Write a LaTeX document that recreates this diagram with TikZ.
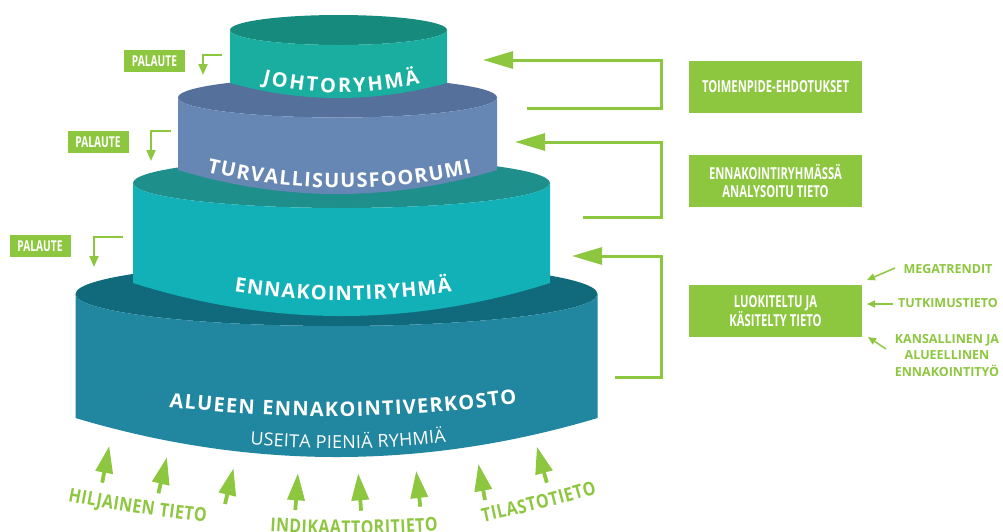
\documentclass[tikz,border=0pt]{standalone}
\usepackage{fontspec}
\setmainfont{Open Sans}
\newfontfamily\condfont[FakeStretch=0.68]{Open Sans}
\newfontfamily\groundfont[FakeStretch=0.84]{Open Sans}
\usetikzlibrary{arrows.meta,decorations.text}

\definecolor{leaf}{HTML}{8DC63F}
\definecolor{layAfront}{HTML}{19AE9F}
\definecolor{layAtop}{HTML}{168A7C}
\definecolor{layBfront}{HTML}{6686B3}
\definecolor{layBtop}{HTML}{55709A}
\definecolor{layCfront}{HTML}{11B1B7}
\definecolor{layCtop}{HTML}{1E8F8B}
\definecolor{layDfront}{HTML}{21869F}
\definecolor{layDtop}{HTML}{106A7B}

\newcommand\tierfont{\fontsize{20}{20}\selectfont\bfseries}
\newcommand\subtierfont{\fontsize{18}{18}\selectfont}
\newcommand\groundlabelfont{\groundfont\fontsize{19}{19}\selectfont\bfseries}

% one layer of the cake: centre x, half width, top y, top-face radius,
% bottom corner y, sag of the bottom edge, front colour, top colour
\newcommand\drawtier[8]{%
  \pgfmathsetmacro\tXl{#1-#2}\pgfmathsetmacro\tXr{#1+#2}%
  \pgfmathsetmacro\tKa{0.5523*#2}\pgfmathsetmacro\tKb{0.5523*#4}%
  \pgfmathsetmacro\tYl{#3+#4}\pgfmathsetmacro\tYk{#3+\tKb}%
  \pgfmathsetmacro\tYc{#5+4*#6/3}%
  \pgfmathsetmacro\tXa{#1-\tKa}\pgfmathsetmacro\tXb{#1+\tKa}%
  \pgfmathsetmacro\tXp{#1+#2/3}\pgfmathsetmacro\tXq{#1-#2/3}%
  \fill[#8] (#1,#3) ellipse [x radius=#2, y radius=#4];
  \fill[#7] (\tXl,#3) .. controls (\tXl,\tYk) and (\tXa,\tYl) .. (#1,\tYl)
    .. controls (\tXb,\tYl) and (\tXr,\tYk) .. (\tXr,#3)
    -- (\tXr,#5) .. controls (\tXp,\tYc) and (\tXq,\tYc) .. (\tXl,#5) -- cycle;
}

\tikzset{
  gbox/.style={fill=leaf, text=white, inner sep=0pt, align=center,
    font=\condfont\fontsize{16.5}{18}\selectfont\bfseries},
  pbox/.style={fill=leaf, text=white, inner sep=0pt, minimum width=61pt,
    minimum height=22pt, font=\condfont\fontsize{15}{15}\selectfont\bfseries},
  sidelabel/.style={text=leaf, inner sep=0pt, align=center,
    font=\fontsize{12.5}{16.5}\selectfont\bfseries},
  feedback/.style={draw=leaf, line width=2pt, -{Triangle[length=11pt,width=9pt]}},
  bracket/.style={draw=leaf, line width=3pt, -{Triangle[length=30pt,width=17pt]}},
  pointer/.style={draw=leaf, line width=1.5pt, -{Triangle[length=8pt,width=7pt]}},
  inflow/.style={draw=leaf, line width=3.8pt, -{Triangle[length=27pt,width=17pt]}},
}

\begin{document}
\begin{tikzpicture}[x=1pt,y=-1pt]
\useasboundingbox (0,0) rectangle (1003,531);

% the four layers, lowest first
\drawtier{336.5}{261}{294}{32}{418}{39}{layDfront}{layDtop}
\drawtier{341.5}{208.5}{183}{25}{283}{33}{layCfront}{layCtop}
\drawtier{337.5}{159.5}{97.5}{20}{170}{24}{layBfront}{layBtop}
\drawtier{338.5}{108.5}{30}{15}{83}{15}{layAfront}{layAtop}

% layer names set along the curved fronts
\path[decorate, decoration={text along path, text align=fit to path, text color=white,
  text={|\tierfont|JOHTORYHMÄ}}]
  (262,83) .. controls (314,96) and (368,96) .. (420,83);
\path[decorate, decoration={text along path, text align=fit to path, text color=white,
  text={|\tierfont|TURVALLISUUSFOORUMI}}]
  (207,172) .. controls (295,193) and (384,193) .. (472,173);
\path[decorate, decoration={text along path, text align=fit to path, text color=white,
  text={|\tierfont|ENNAKOINTIRYHMÄ}}]
  (234,291.5) .. controls (307,303) and (379,303) .. (452,292);
\path[decorate, decoration={text along path, text align=fit to path, text color=white,
  text={|\tierfont|ALUEEN ENNAKOINTIVERKOSTO}}]
  (169,407) .. controls (285,420) and (401,420) .. (517,403);
\path[decorate, decoration={text along path, text align=fit to path, text color=white,
  text={|\subtierfont|USEITA PIENIÄ RYHMIÄ}}]
  (250,444.5) .. controls (315,450) and (381,450) .. (446,442);

% feedback labels on the left
\node[pbox] (pal1) at (154.5,61) {PALAUTE};
\node[pbox] (pal2) at (98,142) {PALAUTE};
\node[pbox] (pal3) at (40,246) {PALAUTE};
\coordinate (f1s) at (222,55); \coordinate (f1t) at (203,75);
\coordinate (f2s) at (171,131); \coordinate (f2t) at (151,161);
\coordinate (f3s) at (123,237); \coordinate (f3t) at (94,267);
\draw[feedback] (f1s) -| (f1t);
\draw[feedback] (f2s) -| (f2t);
\draw[feedback] (f3s) -| (f3t);

% information boxes on the right
\node[gbox, minimum width=173pt, minimum height=52pt] (ehd) at (775.5,87) {TOIMENPIDE-EHDOTUKSET};
\node[gbox, minimum width=173pt, minimum height=52pt] (ana) at (775.5,181) {ENNAKOINTIRYHMÄSSÄ\\ANALYSOITU TIETO};
\node[gbox, minimum width=173pt, minimum height=52pt] (luo) at (775.5,311) {LUOKITELTU JA\\KÄSITELTY TIETO};

% brackets leading the information upwards
\coordinate (b1s) at (527,108); \coordinate (b1c) at (661,60); \coordinate (b1t) at (483,60);
\coordinate (b2s) at (583,217); \coordinate (b2c) at (661,142); \coordinate (b2t) at (515,142);
\coordinate (b3s) at (615,377); \coordinate (b3c) at (661,256); \coordinate (b3t) at (572,256);
\draw[bracket] (b1s) -| (b1c) -- (b1t);
\draw[bracket] (b2s) -| (b2c) -- (b2t);
\draw[bracket] (b3s) -| (b3c) -- (b3t);

% sources feeding the classified information
\node[sidelabel] (mega) at (948,269.5) {MEGATRENDIT};
\node[sidelabel] (tutk) at (948,303.5) {TUTKIMUSTIETO};
\node[sidelabel] (kans) at (947,355.5) {KANSALLINEN JA\\ALUEELLINEN\\ENNAKOINTITYÖ};
\coordinate (m1) at (895,268); \coordinate (m2) at (867,280);
\coordinate (t1) at (893,304); \coordinate (t2) at (867,304);
\coordinate (k1) at (886,349); \coordinate (k2) at (868,337);
\draw[pointer] (m1) -- (m2);
\draw[pointer] (t1) -- (t2);
\draw[pointer] (k1) -- (k2);

% inflowing arrows under the base layer
\coordinate (a1s) at (102.2,482.7); \coordinate (a1t) at (109.2,446);
\coordinate (a2s) at (158.4,493.3); \coordinate (a2t) at (166.9,457.3);
\coordinate (a3s) at (225,504);     \coordinate (a3t) at (233.5,468.3);
\coordinate (a4s) at (295.3,510);   \coordinate (a4t) at (297.9,473.3);
\coordinate (a5s) at (361.1,510.7); \coordinate (a5t) at (358.2,473.3);
\coordinate (a6s) at (420.3,506.7); \coordinate (a6t) at (416.2,471);
\coordinate (a7s) at (485,500);     \coordinate (a7t) at (478.4,464);
\coordinate (a8s) at (546.8,482.7); \coordinate (a8t) at (536.9,446.7);
\foreach \i in {1,...,8} \draw[inflow] (a\i s) -- (a\i t);

% kinds of incoming knowledge
\path[decorate, decoration={text along path, text align=fit to path, text color=leaf,
  text={|\groundlabelfont|HILJAINEN TIETO}}]
  (68,501) .. controls (114,510) and (160,517) .. (206,522);
\path[decorate, decoration={text along path, text align=fit to path, text color=leaf,
  text={|\groundlabelfont|INDIKAATTORITIETO}}]
  (270,531.5) .. controls (326,535) and (382,535) .. (438,531);
\path[decorate, decoration={text along path, text align=fit to path, text color=leaf,
  text={|\groundlabelfont|TILASTOTIETO}}]
  (483,522) .. controls (521,514) and (559,505) .. (597,493.5);
\end{tikzpicture}
\end{document}
